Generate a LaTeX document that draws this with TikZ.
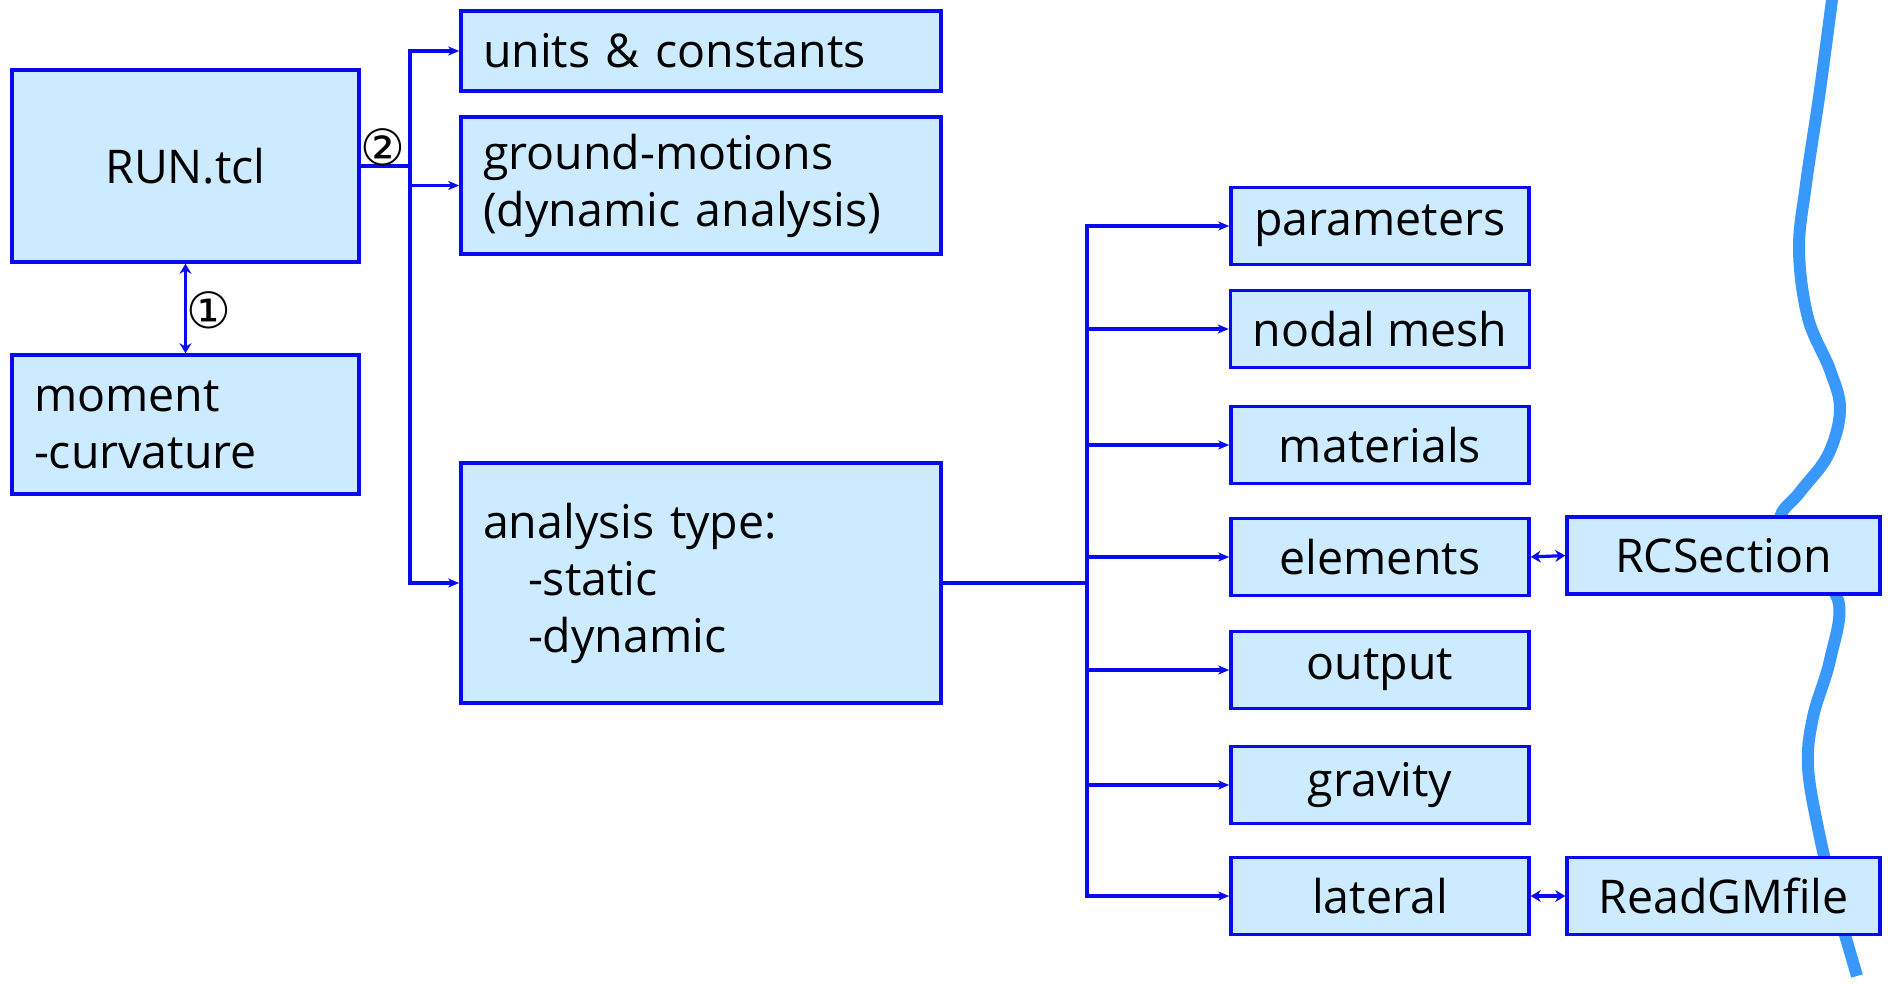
\documentclass[tikz,border=0pt]{standalone}
\usepackage{fontspec}
\setmainfont{Open Sans}
\newfontfamily\symfont{DejaVu Sans}
\usepackage{tikz}
\usetikzlibrary{arrows.meta}
\usetikzlibrary{positioning}
\definecolor{boxline}{RGB}{10,10,240}
\definecolor{boxfill}{RGB}{204,235,255}
\definecolor{wave}{RGB}{56,152,252}
\tikzset{box/.style={draw=boxline, fill=boxfill, line width=3.5pt,
   inner xsep=22pt, inner ysep=0pt, font=\fontsize{46.5}{57}\selectfont},
 leftbox/.style={box, align=left, text width=#1},
 trunk/.style={draw=boxline, line width=4pt},
 feed/.style={draw=boxline, line width=3.2pt, -{Stealth[length=11pt,width=9pt,inset=3pt]}},
 link/.style={draw=boxline, line width=3.2pt, {Stealth[length=10pt,width=12pt]}-{Stealth[length=10pt,width=12pt]}},
 numtag/.style={font=\symfont\fontsize{50}{50}\selectfont, inner sep=0pt},
 }

\begin{document}
\begin{tikzpicture}[x=1pt, y=-1pt]
        \useasboundingbox (0,0) rectangle (1894,983);
        % the wavy cut line behind the boxes
        \draw[wave, line width=12pt] plot[smooth, tension=0.6] coordinates {
            (1833,-8) (1820,90) (1806,184) (1799,250) (1808,318) (1830,370)
            (1840,410) (1828,455) (1800,492) (1780,520) (1800,560) (1838,600)
            (1830,660) (1813,717) (1808,767) (1819,833) (1835,900) (1845,935) (1857,976)};
        % main file and its helpers
        \node[box, minimum width=347pt, minimum height=192pt] (run) at (185.5,166) {RUN.tcl};
        \node[leftbox=303pt, minimum width=347pt, minimum height=139pt] (moment) at (185.5,424.5) {moment\\-curvature};
        \node[leftbox=436pt, minimum width=480pt, minimum height=80pt] (units) at (701,51) {units \& constants};
        \node[leftbox=436pt, minimum width=480pt, minimum height=137pt] (ground) at (701,185.5) {ground-motions\\(dynamic analysis)};
        \node[leftbox=436pt, minimum width=480pt, minimum height=240pt] (analysis) at (701,583) {analysis type:\\\hspace*{45pt}-static\\\hspace*{45pt}-dynamic};
        % model pieces
        \foreach \name/\txt/\y in {params/parameters/226, mesh/nodal mesh/329,
            materials/materials/445, elements/elements/557, output/output/670,
            gravity/gravity/785, lateral/lateral/896} {
            \node[box, minimum width=298pt, minimum height=77pt] (\name) at (1380,\y) {\txt};
        }
        \node[box, minimum width=313pt, minimum height=77pt] (rcsec) at (1723.5,555.5) {RCSection};
        \node[box, minimum width=313pt, minimum height=77pt] (readgm) at (1723.5,896) {ReadGMfile};
        % connectors
        \coordinate (busA) at (410,166);
        \coordinate (busB) at (1087,583);
        \draw[trunk] (run.east) -- (busA);
        \foreach \n in {units, ground, analysis} {
            \draw[feed] (busA) |- (\n.west);
        }
        \draw[trunk] (analysis.east) -- (busB);
        \foreach \n in {params, mesh, materials, elements, output, gravity, lateral} {
            \draw[feed] (busB) |- (\n.west);
        }
        \draw[link] (run.south) -- (moment.north);
        \draw[link] (elements.east) -- (rcsec.west);
        \draw[link] (lateral.east) -- (readgm.west);
        \node[numtag] (one) at (209,310) {①};
        \node[numtag] (two) at (383,147) {②};
    \end{tikzpicture}
\end{document}
